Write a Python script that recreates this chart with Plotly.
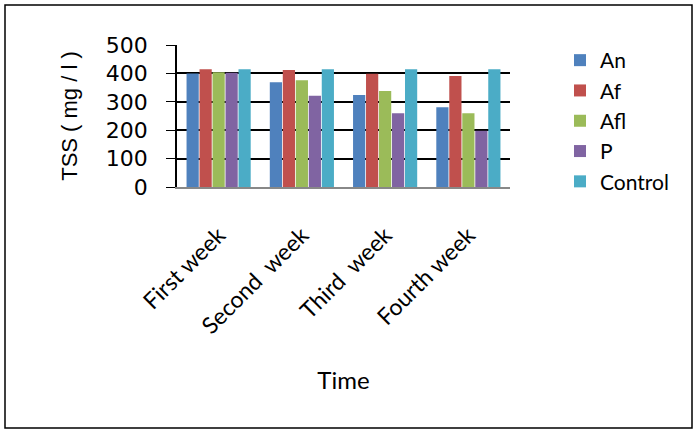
import plotly.graph_objects as go

# TSS readings (mg/l) per week for each treatment
weeks = ["First week", "Second  week", "Third  week", "Fourth week"]
an = [400, 369, 324, 281]
af = [415, 412, 399, 391]
afl = [404, 376, 338, 260]
p = [402, 321, 260, 198]
control = [415, 415, 415, 415]

series = [
    ("An", an, "#4F81BD"),
    ("Af", af, "#C0504D"),
    ("Afl", afl, "#9BBB59"),
    ("P", p, "#8064A2"),
    ("Control", control, "#4BACC6"),
]

W, H = 696, 433
ML, MR, MT, MB = 177, 186, 45, 246

fig = go.Figure()
for name, vals, col in series:
    fig.add_trace(go.Bar(
        x=weeks, y=vals, name=name, legendgroup=name,
        marker=dict(color=col, line=dict(color=col, width=0)),
    ))

pw = W - ML - MR
ph = H - MT - MB


def px_x(v):
    return (v - ML) / pw


def px_y(v):
    return 1 - (v - MT) / ph


fig.update_layout(
    width=W, height=H,
    margin=dict(l=ML, r=MR, t=MT, b=MB),
    paper_bgcolor="white", plot_bgcolor="white",
    barmode="group", bargap=0.22, bargroupgap=0.06,
    font=dict(family="Lato", color="black"),
    showlegend=True,
    legend=dict(
        x=px_x(560), y=px_y(40), xanchor="left", yanchor="top",
        font=dict(family="Lato", size=21, color="black"),
        itemwidth=30, tracegroupgap=0, bgcolor="rgba(0,0,0,0)",
    ),
    xaxis=dict(
        tickangle=-45, showline=True, linecolor="#888888", linewidth=1.5,
        tickfont=dict(family="Lato", size=23, color="black"),
        ticklabelstandoff=24,
        title=dict(text="Time", font=dict(family="Lato", size=24, color="black"),
                   standoff=34),
        ticks="", showgrid=False,
    ),
    yaxis=dict(
        range=[0, 500], dtick=100, showgrid=True, gridcolor="black", gridwidth=1.5,
        showline=True, linecolor="black", linewidth=1.5,
        ticks="outside", ticklen=9, tickcolor="black",
        ticklabelstandoff=14,
        tickfont=dict(family="DejaVu Sans", size=22, color="black"),
        title=dict(text="TSS ( mg / l )",
                   font=dict(family="Liberation Sans", size=22, color="black"),
                   standoff=22),
        zeroline=False,
    ),
    shapes=[dict(
        type="rect", xref="paper", yref="paper",
        x0=px_x(5), x1=px_x(692), y0=px_y(428), y1=px_y(5),
        line=dict(color="black", width=1.5), fillcolor="rgba(0,0,0,0)",
        layer="below",
    )],
)

fig.write_html("out.html")
